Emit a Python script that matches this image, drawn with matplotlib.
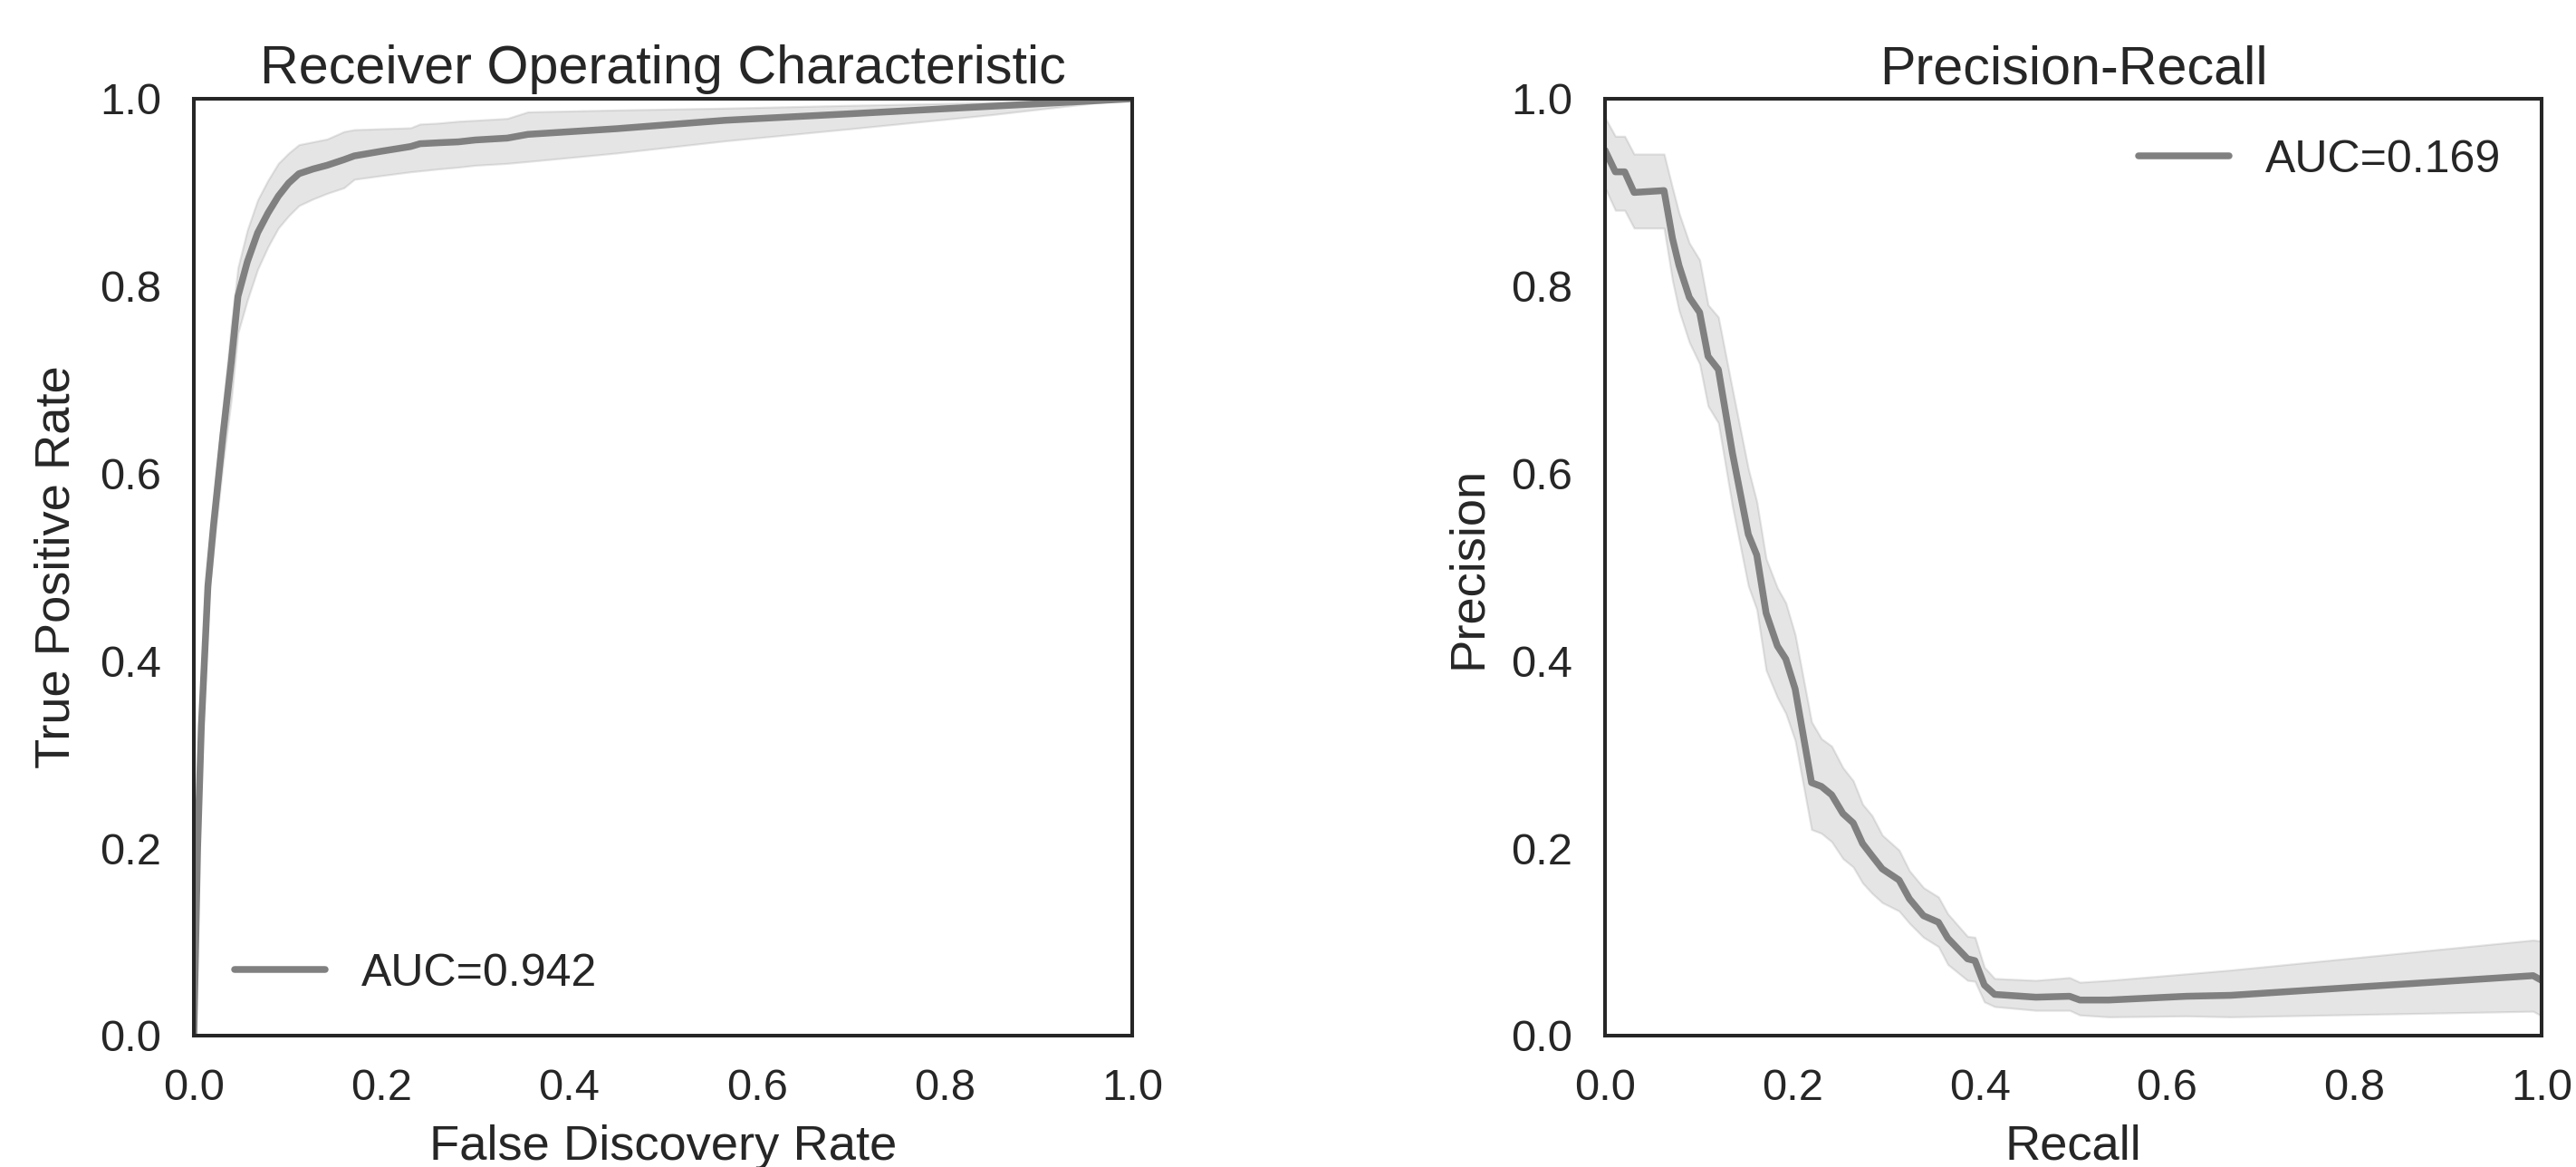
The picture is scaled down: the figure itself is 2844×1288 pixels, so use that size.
import matplotlib
matplotlib.use("Agg")
import matplotlib.pyplot as plt
import numpy as np

# ---------------- data ----------------
roc_fpr = [0, 0.004, 0.008, 0.015, 0.021, 0.031, 0.04, 0.047, 0.057, 0.068, 0.079, 0.09, 0.101,
           0.112, 0.127, 0.142, 0.16, 0.171, 0.2, 0.231, 0.241, 0.26, 0.282, 0.3, 0.334, 0.356,
           0.45, 0.566, 0.7, 0.85, 1.0]
roc_tpr = [0, 0.2, 0.33, 0.48, 0.545, 0.641, 0.72, 0.789, 0.826, 0.857, 0.878, 0.896, 0.910,
           0.920, 0.925, 0.929, 0.935, 0.939, 0.944, 0.949, 0.952, 0.953, 0.954, 0.956, 0.958, 0.962,
           0.968, 0.977, 0.984, 0.992, 1.0]
roc_upper = [0, 0.21, 0.345, 0.5, 0.57, 0.67, 0.76, 0.82, 0.86, 0.892, 0.913, 0.931, 0.942,
             0.951, 0.954, 0.957, 0.965, 0.967, 0.968, 0.969, 0.973, 0.974, 0.976, 0.977, 0.979, 0.986,
             0.988, 0.990, 0.993, 0.996, 1.0]
roc_lower = [0, 0.19, 0.315, 0.46, 0.52, 0.61, 0.68, 0.75, 0.785, 0.818, 0.842, 0.862, 0.875,
             0.886, 0.893, 0.899, 0.905, 0.914, 0.918, 0.922, 0.923, 0.925, 0.927, 0.929, 0.931, 0.933,
             0.942, 0.955, 0.968, 0.983, 1.0]
roc_auc = 0.942

pr_recall = [0, 0.011, 0.021, 0.031, 0.063, 0.072, 0.079, 0.090, 0.101, 0.110, 0.121, 0.136,
             0.153, 0.162, 0.172, 0.184, 0.193, 0.203, 0.2205, 0.231, 0.242, 0.254, 0.265, 0.275,
             0.285, 0.296, 0.314, 0.325, 0.340, 0.356, 0.366, 0.387, 0.395, 0.405, 0.416, 0.460,
             0.496, 0.507, 0.538, 0.621, 0.668, 0.991, 1.0]
pr_precision = [0.945, 0.922, 0.922, 0.900, 0.902, 0.851, 0.822, 0.788, 0.772, 0.725, 0.711, 0.622,
                0.535, 0.513, 0.451, 0.416, 0.402, 0.370, 0.270, 0.266, 0.257, 0.237, 0.227, 0.205,
                0.192, 0.178, 0.166, 0.146, 0.128, 0.121, 0.104, 0.082, 0.080, 0.054, 0.044, 0.041,
                0.042, 0.038, 0.038, 0.042, 0.043, 0.064, 0.059]
pr_upper = [0.98, 0.960, 0.960, 0.941, 0.941, 0.905, 0.878, 0.846, 0.828, 0.780, 0.767, 0.690,
            0.605, 0.570, 0.509, 0.478, 0.462, 0.428, 0.335, 0.317, 0.309, 0.286, 0.272, 0.247,
            0.235, 0.214, 0.198, 0.176, 0.158, 0.148, 0.130, 0.106, 0.105, 0.073, 0.061, 0.059,
            0.062, 0.057, 0.059, 0.066, 0.070, 0.102, 0.101]
pr_lower = [0.905, 0.881, 0.881, 0.862, 0.862, 0.806, 0.774, 0.740, 0.717, 0.672, 0.654, 0.565,
            0.480, 0.455, 0.390, 0.361, 0.344, 0.315, 0.220, 0.216, 0.207, 0.189, 0.180, 0.163,
            0.152, 0.142, 0.133, 0.120, 0.105, 0.095, 0.076, 0.059, 0.058, 0.036, 0.031, 0.027,
            0.027, 0.022, 0.020, 0.021, 0.020, 0.026, 0.021]
pr_auc = 0.169

ticks = [0.0, 0.2, 0.4, 0.6, 0.8, 1.0]
tick_labels = ["0.0", "0.2", "0.4", "0.6", "0.8", "1.0"]

# ---------------- style ----------------
TXT = "#262626"
plt.rcParams["font.family"] = ["Liberation Sans", "DejaVu Sans"]
plt.rcParams["text.color"] = TXT
plt.rcParams["axes.labelcolor"] = TXT
plt.rcParams["xtick.color"] = TXT
plt.rcParams["ytick.color"] = TXT

fig = plt.figure(figsize=(14.22, 6.44), dpi=200)
ax1 = fig.add_axes([0.07525, 0.11258, 0.36428, 0.80280])
ax2 = fig.add_axes([0.62307, 0.11258, 0.36357, 0.80280])

LINE = "#808080"


def style(ax):
    ax.set_xlim(0, 1)
    ax.set_ylim(0, 1)
    ax.set_xticks(ticks)
    ax.set_xticklabels(tick_labels)
    ax.set_yticks(ticks)
    ax.set_yticklabels(tick_labels)
    ax.tick_params(axis="both", which="major", labelsize=17.6, length=0, pad=13)
    for s in ax.spines.values():
        s.set_color(TXT)
        s.set_linewidth(1.45)
    ax.set_facecolor("white")


# ROC
ax1.fill_between(roc_fpr, roc_lower, roc_upper, color="gray", alpha=0.2, linewidth=0.8)
ax1.plot(roc_fpr, roc_tpr, color=LINE, linewidth=2.7, label="AUC=%.3f" % roc_auc,
         solid_capstyle="round")
style(ax1)
ax1.set_title("Receiver Operating Characteristic", fontsize=21.35)
ax1.set_xlabel("False Discovery Rate", fontsize=19.6, labelpad=6)
ax1.set_ylabel("True Positive Rate", fontsize=19.6, labelpad=8)
ax1.legend(loc="lower left", frameon=False, fontsize=18)

# PR
ax2.fill_between(pr_recall, pr_lower, pr_upper, color="gray", alpha=0.2, linewidth=0.8)
ax2.plot(pr_recall, pr_precision, color=LINE, linewidth=2.7, label="AUC=%.3f" % pr_auc,
         solid_capstyle="round")
style(ax2)
ax2.set_title("Precision-Recall", fontsize=21.35)
ax2.set_xlabel("Recall", fontsize=19.6, labelpad=6)
ax2.set_ylabel("Precision", fontsize=19.6, labelpad=8)
ax2.legend(loc="upper right", frameon=False, fontsize=18)

fig.savefig("out.png", dpi=200, facecolor="white")
